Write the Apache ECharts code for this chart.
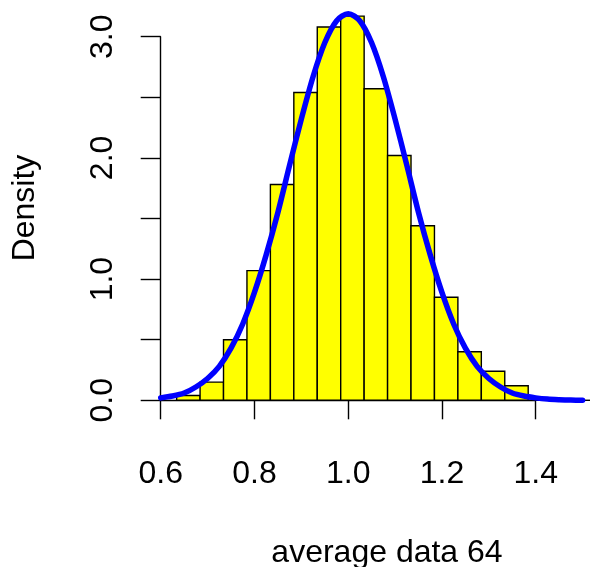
<!DOCTYPE html>
<html>
<head>
<meta charset="utf-8">
<script src="https://cdn.jsdelivr.net/npm/echarts@6/dist/echarts.min.js"></script>
<style>
  html, body { margin: 0; padding: 0; background: #fff; }
  #main { width: 590px; height: 567px; }
</style>
</head>
<body>
<div id="main"></div>
<script>
// histogram bins (left edges, width 0.05) and density heights
const binEdges = [0.634, 0.684, 0.734, 0.784, 0.834, 0.884, 0.934, 0.984, 1.034,
  1.084, 1.134, 1.184, 1.234, 1.284, 1.334, 1.384, 1.434, 1.484, 1.534];
const binHeights = [0.04, 0.15, 0.50, 1.07, 1.78, 2.54, 3.08, 3.17, 2.57,
  2.02, 1.44, 0.85, 0.40, 0.24, 0.12, 0, 0, 0];

// density curve points
const curveX = [0.6, 0.625, 0.65, 0.675, 0.7, 0.725, 0.75, 0.775, 0.8, 0.825,
  0.85, 0.875, 0.9, 0.925, 0.95, 0.975, 1.0, 1.025, 1.05, 1.075, 1.1, 1.125,
  1.15, 1.175, 1.2, 1.225, 1.25, 1.275, 1.3, 1.325, 1.35, 1.375, 1.4, 1.425,
  1.45, 1.475, 1.5];
const curveY = [0.02, 0.035, 0.06, 0.11, 0.18, 0.28, 0.43, 0.63, 0.89, 1.20,
  1.55, 1.94, 2.32, 2.67, 2.95, 3.13, 3.19, 3.13, 2.95, 2.67, 2.32, 1.94,
  1.55, 1.20, 0.89, 0.63, 0.43, 0.28, 0.18, 0.11, 0.06, 0.035, 0.02, 0.01,
  0.005, 0.002, 0.001];

const xTicks = { min: 0.6, max: 1.4, step: 0.2 };
const yTicks = { min: 0, max: 3, step: 0.5 };
// plot region reaches past the last tick, up to the right edge
const xPlotMax = 1.5158;

const font = '"Liberation Sans", Arial, sans-serif';

const bins = binHeights.map((h, i) => [binEdges[i], binEdges[i + 1], h]);
const curve = curveX.map((x, i) => [x, curveY[i]]);

const pxPerX = 375 / (xTicks.max - xTicks.min);

const chart = echarts.init(document.getElementById('main'));

chart.setOption({
  animation: false,
  backgroundColor: '#ffffff',
  grid: [
    // axes as drawn
    { left: 160.7, top: 36.7, width: 375, height: 363.6 },
    // data region (same scale, wider)
    { left: 160.7, top: 36.7, width: (xPlotMax - xTicks.min) * pxPerX, height: 363.6 }
  ],
  xAxis: [
    {
      type: 'value', gridIndex: 0,
      min: xTicks.min, max: xTicks.max, interval: xTicks.step,
      offset: 16.4,
      axisLine: { lineStyle: { color: '#000', width: 1.4 } },
      axisTick: { length: 19, lineStyle: { color: '#000', width: 1.4 } },
      axisLabel: {
        margin: 41, color: '#000', fontSize: 32, fontFamily: font,
        formatter: v => v.toFixed(1)
      },
      splitLine: { show: false }
    },
    {
      type: 'value', gridIndex: 1, show: false,
      min: xTicks.min, max: xPlotMax,
      splitLine: { show: false }
    }
  ],
  yAxis: [
    {
      type: 'value', gridIndex: 0,
      min: yTicks.min, max: yTicks.max, interval: yTicks.step,
      axisLine: { show: true, lineStyle: { color: '#000', width: 1.4 } },
      axisTick: { show: true, length: 20, lineStyle: { color: '#000', width: 1.4 } },
      axisLabel: {
        rotate: 90, margin: 42, color: '#000', fontSize: 32, fontFamily: font,
        formatter: v => (Math.abs(v % 1) < 1e-9 ? v.toFixed(1) : '')
      },
      splitLine: { show: false }
    },
    {
      type: 'value', gridIndex: 1, show: false,
      min: yTicks.min, max: yTicks.max,
      splitLine: { show: false }
    }
  ],
  graphic: [
    {
      type: 'text', x: 387, y: 553,
      style: { text: 'average data 64', font: '32px ' + font, fill: '#000',
        textAlign: 'center', textVerticalAlign: 'middle' }
    },
    {
      type: 'text', x: 25, y: 208, rotation: Math.PI / 2,
      style: { text: 'Density', font: '32px ' + font, fill: '#000',
        textAlign: 'center', textVerticalAlign: 'middle' }
    }
  ],
  series: [
    {
      type: 'custom',
      xAxisIndex: 1, yAxisIndex: 1,
      clip: false,
      encode: { x: [0, 1], y: 2 },
      data: bins,
      renderItem: (params, api) => {
        const p0 = api.coord([api.value(0), 0]);
        const p1 = api.coord([api.value(1), api.value(2)]);
        if (api.value(2) === 0) {
          return {
            type: 'line',
            shape: { x1: p0[0], y1: p0[1], x2: p1[0], y2: p0[1] },
            style: { stroke: '#000', lineWidth: 1.4 }
          };
        }
        return {
          type: 'rect',
          shape: { x: p0[0], y: p1[1], width: p1[0] - p0[0], height: p0[1] - p1[1] },
          style: { fill: '#ffff00', stroke: '#000', lineWidth: 1.4 }
        };
      },
      z: 2
    },
    {
      type: 'line',
      xAxisIndex: 1, yAxisIndex: 1,
      data: curve,
      clip: false,
      smooth: 0.3,
      showSymbol: false,
      lineStyle: { color: '#0000ff', width: 5.5, cap: 'round', join: 'round' },
      z: 3
    }
  ]
});
</script>
</body>
</html>
